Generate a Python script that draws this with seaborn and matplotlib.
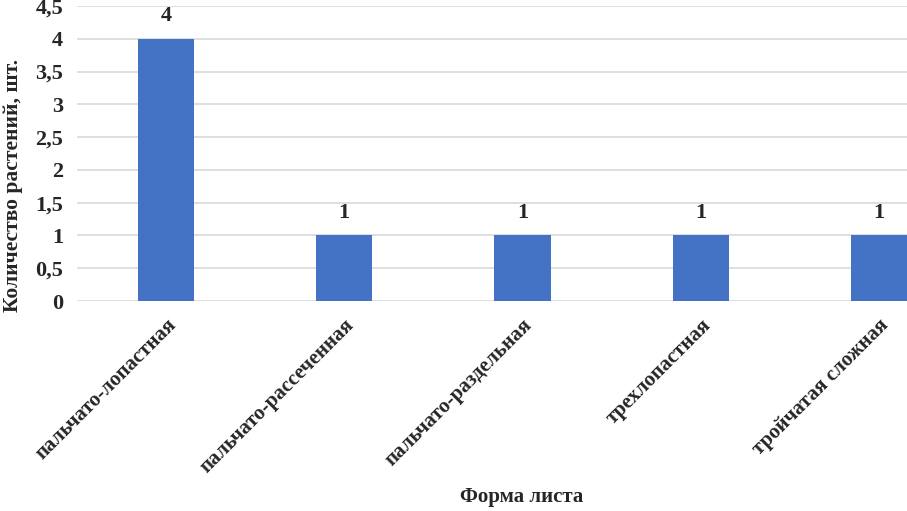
import pandas as pd
import seaborn as sns
import matplotlib.pyplot as plt

categories = ['пальчато-лопастная', 'пальчато-рассеченная', 'пальчато-раздельная',
              'трехлопастная', 'тройчатая сложная']
counts = [4, 1, 1, 1, 1]
y_ticks = [0, 0.5, 1, 1.5, 2, 2.5, 3, 3.5, 4, 4.5]
y_tick_labels = ['0', '0,5', '1', '1,5', '2', '2,5', '3', '3,5', '4', '4,5']

df = pd.DataFrame({'form': categories, 'count': counts})

sns.set_style('white')
plt.rcParams['font.family'] = ['Liberation Serif', 'DejaVu Serif']
plt.rcParams['font.weight'] = 'bold'
fs = 15

fig = plt.figure(figsize=(9.07, 5.11), dpi=100)
ax = fig.add_axes([77 / 907, 210 / 511, 891 / 907, 295 / 511])

sns.barplot(data=df, x='form', y='count', color='#4472C4', width=0.315,
            saturation=1, linewidth=0, ax=ax)

ax.set_ylim(0, 4.5)
ax.set_xlim(-0.5, 4.5)
ax.set_yticks(y_ticks)
ax.set_yticklabels(y_tick_labels, fontsize=16, fontweight='bold')
ax.yaxis.grid(True, color='#D9D9D9', linewidth=1.2)
ax.set_axisbelow(True)
for s in ax.spines.values():
    s.set_visible(False)
ax.tick_params(axis='y', length=0, pad=10)
ax.tick_params(axis='x', length=0, pad=10)

ax.set_xticks(range(len(categories)))
ax.set_xticklabels(categories, rotation=45, ha='right', rotation_mode='anchor',
                   fontsize=fs, fontweight='bold')

ax.bar_label(ax.containers[0], labels=[str(c) for c in counts], padding=9,
             fontsize=16, fontweight='bold')

ax.set_xlabel('')
ax.set_ylabel('')
fig.text(13 / 907, 1 - 185 / 511, 'Количество растений, шт.', rotation=90,
         ha='center', va='center', fontsize=15.5, fontweight='bold')
fig.text(522 / 907, 14 / 511, 'Форма листа', ha='center', va='center',
         fontsize=fs, fontweight='bold')

fig.savefig('out.png', dpi=100)
